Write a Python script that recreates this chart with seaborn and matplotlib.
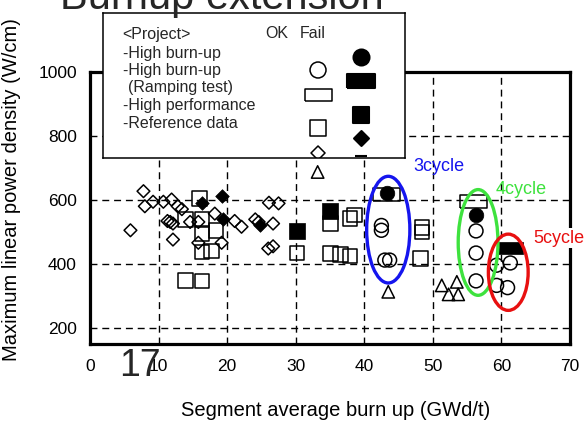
import matplotlib.pyplot as plt
import seaborn as sns
from matplotlib.patches import Ellipse

sns.set_theme(style="white")
plt.rcParams['font.family'] = ['Liberation Sans', 'DejaVu Sans']

# --- donnees (burn-up GWd/t, puissance W/cm) ---
hb_ok_x = [42.5, 42.5, 43.0, 43.7, 56.3, 56.3, 56.3, 59.3, 61.3, 59.3, 60.9]
hb_ok_y = [520, 505, 412, 412, 503, 434, 347, 396, 403, 333, 326]
hb_fail_x = [43.3, 56.3]
hb_fail_y = [622, 552]

ramp_ok_x = [43.3, 55.9]
ramp_ok_y = [617, 594]
ramp_fail_x = [61.3]
ramp_fail_y = [449]

hp_ok_x = [16.0, 13.9, 16.3, 16.3, 18.4, 16.3, 17.7, 13.9, 16.3, 30.2,
           35.1, 37.9, 38.6, 35.1, 36.5, 37.9, 48.4, 48.4, 48.2]
hp_ok_y = [604, 539, 539, 495, 505, 437, 441, 349, 347, 434,
           526, 542, 552, 433, 430, 424, 514, 500, 417]
hp_fail_x = [30.2, 35.0]
hp_fail_y = [502, 566]

ref_ok_x = [7.8, 8.0, 9.2, 10.7, 11.9, 12.8, 5.9, 11.3, 11.7, 12.1, 12.1, 14.6, 15.8,
            15.8, 18.2, 19.2, 21.1, 22.1, 24.1, 24.6, 26.7, 26.1, 27.5, 26.0, 26.7, 13.4]
ref_ok_y = [627, 580, 594, 594, 601, 580, 505, 534, 531, 526, 476, 531, 531,
            466, 557, 466, 534, 516, 539, 531, 526, 591, 589, 448, 455, 571]
ref_fail_x = [19.2, 16.3, 19.4, 24.8]
ref_fail_y = [612, 589, 539, 521]

other_x = [33.2, 43.5, 51.3, 53.5, 52.3, 53.7]
other_y = [687, 313, 333, 344, 305, 305]

# ellipses des cycles
cyc_labels = ["3cycle", "4cycle", "5cycle"]
cyc_colors = ["#1515ee", "#3ee23e", "#e81010"]
cyc_cx = [43.5, 56.6, 61.0]
cyc_cy = [507, 467, 374]
cyc_w = [6.3, 5.8, 5.8]
cyc_h = [333, 330, 238]
cyc_tx = [47.1, 59.1, 64.6]
cyc_ty = [705, 633, 480]

# legende
leg_lines = ["<Project>", "-High burn-up", "-High burn-up", "(Ramping test)",
             "-High performance", "-Reference data"]
leg_line_x = [19.7, 19.7, 19.7, 24.7, 19.7, 19.7]
leg_line_y = [21.6, 40.6, 58.0, 74.6, 93.3, 111.3]
leg_ok_y = [57.3, 82.3, 115.3, 140.3]
leg_fail_y = [44.3, 68.3, 102.3, 125.3, 143.5]

wide = [(-1, -0.48), (1, -0.48), (1, 0.48), (-1, 0.48), (-1, -0.48)]

fig = plt.figure(figsize=(5.87, 4.22), dpi=100)
ax = fig.add_axes([0.1533, 0.1848, 0.8177, 0.6453])

op = dict(facecolor='none', edgecolor='black', linewidth=1.1, zorder=3)
fl = dict(color='black', edgecolor='black', linewidth=0.5, zorder=4)

sns.scatterplot(x=ref_ok_x, y=ref_ok_y, marker='D', s=42, ax=ax, **op)
sns.scatterplot(x=hp_ok_x, y=hp_ok_y, marker='s', s=109, ax=ax, **op)
sns.scatterplot(x=other_x, y=other_y, marker='^', s=80, ax=ax, **op)
sns.scatterplot(x=hb_ok_x, y=hb_ok_y, marker='o', s=100, ax=ax, **op)
sns.scatterplot(x=ramp_ok_x, y=ramp_ok_y, marker=wide, s=377, ax=ax, **op)
sns.scatterplot(x=ref_fail_x, y=ref_fail_y, marker='D', s=48, ax=ax, **fl)
sns.scatterplot(x=hp_fail_x, y=hp_fail_y, marker='s', s=141, ax=ax, **fl)
sns.scatterplot(x=hb_fail_x, y=hb_fail_y, marker='o', s=110, ax=ax, **fl)
sns.scatterplot(x=ramp_fail_x, y=ramp_fail_y, marker=wide, s=377, ax=ax, **fl)

for i in range(len(cyc_labels)):
    ax.add_patch(Ellipse((cyc_cx[i], cyc_cy[i]), cyc_w[i], cyc_h[i], fill=False,
                         edgecolor=cyc_colors[i], linewidth=2.4, zorder=5))
    t = ax.text(cyc_tx[i], cyc_ty[i], cyc_labels[i], color=cyc_colors[i], fontsize=13,
                va='center', ha='left', clip_on=False, zorder=6)
    if i == 2:
        t.set_bbox(dict(facecolor='white', edgecolor='none', pad=1))

ax.set_xlim(0, 70)
ax.set_ylim(150, 1000)
ax.set_xticks(range(0, 71, 10))
ax.set_yticks(range(200, 1001, 200))
ax.grid(True, color='black', linestyle=(0, (5, 3.5)), linewidth=1)
ax.tick_params(axis='x', direction='in', length=6, width=1, pad=11, labelsize=12.5, colors='black')
ax.tick_params(axis='y', direction='out', length=2.5, width=1, pad=7, labelsize=12.5, colors='black')
for sp in ax.spines.values():
    sp.set_color('black')
    sp.set_linewidth(2.3)

ax.set_xlabel("Segment average burn up (GWd/t)", fontsize=14.5, color='black')
ax.set_ylabel("Maximum linear power density (W/cm)", fontsize=14.5, color='black')
ax.xaxis.set_label_coords(0.5125, -0.2075)
ax.yaxis.set_label_coords(-0.144, 0.566)

# boite de legende
lg = fig.add_axes([0.1755, 0.6256, 0.5145, 0.3443])
lg.set_xlim(0, 302)
lg.set_ylim(145.3, 0)
lg.set_xticks([])
lg.set_yticks([])
lg.set_facecolor('white')
for sp in lg.spines.values():
    sp.set_color('black')
    sp.set_linewidth(1.1)
for txt, tx, ty in zip(leg_lines, leg_line_x, leg_line_y):
    lg.text(tx, ty, txt, fontsize=11.5, va='center', ha='left')
lg.text(162, 20.3, "OK", fontsize=11.5, va='center', ha='left')
lg.text(197, 20.3, "Fail", fontsize=11.5, va='center', ha='left')

ok_marks = ['o', wide, 's', 'D']
ok_sizes = [132, 377, 132, 51]
for m, sz, yy in zip(ok_marks, ok_sizes, leg_ok_y):
    lg.scatter([215], [yy], marker=m, s=sz, facecolor='none', edgecolor='black', linewidth=1.1)
fail_marks = ['o', wide, 's', 'D', '_']
fail_sizes = [132, 400, 149, 58, 74]
for m, sz, yy in zip(fail_marks, fail_sizes, leg_fail_y):
    lg.scatter([258], [yy], marker=m, s=sz, color='black', linewidth=1.5, clip_on=False)

fig.text(60 / 587, 0.978, "Burnup extension", fontsize=30, va='baseline', ha='left')
fig.text(119 / 587, 1 - 376 / 422, "17", fontsize=27, va='baseline', ha='left')

fig.savefig("out.png", dpi=100)
